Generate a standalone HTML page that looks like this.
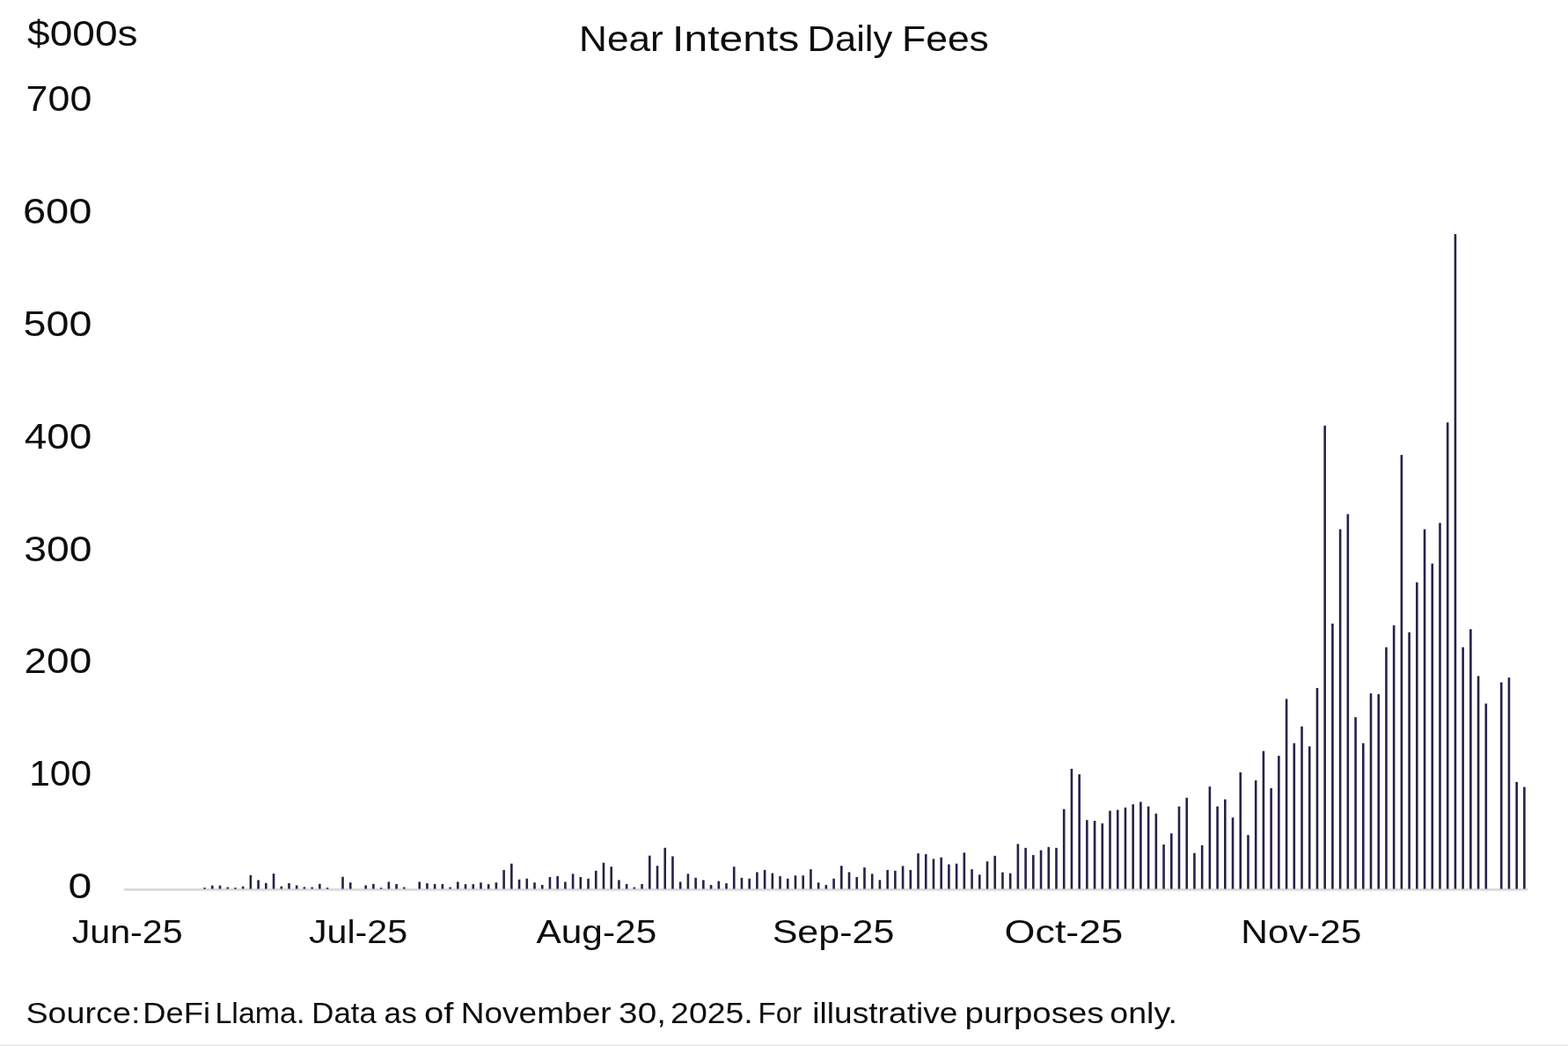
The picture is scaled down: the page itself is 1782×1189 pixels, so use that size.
<!DOCTYPE html>
<html lang="en"><head><meta charset="utf-8"><title>Near Intents Daily Fees</title>
<style>
html,body{margin:0;padding:0;background:#fff;}
body{width:1782px;height:1189px;overflow:hidden;}
svg{display:block;}
text{font-family:"Liberation Sans",sans-serif;fill:#0d0d0d;}
</style></head><body>
<svg width="1782" height="1189" viewBox="0 0 1782 1189">
<rect width="1782" height="1189" fill="#fff"/>
<g>
<text x="31.13" y="52.1" font-size="40" textLength="125.35" lengthAdjust="spacingAndGlyphs">$000s</text>
</g>
<g>
<text y="58.2" font-size="41"><tspan x="658.06" textLength="95.77" lengthAdjust="spacingAndGlyphs">Near</tspan> <tspan x="764.08" textLength="144.31" lengthAdjust="spacingAndGlyphs">Intents</tspan> <tspan x="917.62" textLength="96.69" lengthAdjust="spacingAndGlyphs">Daily</tspan> <tspan x="1025.07" textLength="98.77" lengthAdjust="spacingAndGlyphs">Fees</tspan></text>
</g>
<g>
<text x="29.60" y="125.9" font-size="40" textLength="74.72" lengthAdjust="spacingAndGlyphs">700</text>
<text x="25.93" y="253.8" font-size="40" textLength="78.49" lengthAdjust="spacingAndGlyphs">600</text>
<text x="26.57" y="381.7" font-size="40" textLength="77.80" lengthAdjust="spacingAndGlyphs">500</text>
<text x="27.71" y="509.6" font-size="40" textLength="76.63" lengthAdjust="spacingAndGlyphs">400</text>
<text x="27.27" y="637.5" font-size="40" textLength="77.19" lengthAdjust="spacingAndGlyphs">300</text>
<text x="27.55" y="765.4" font-size="40" textLength="76.69" lengthAdjust="spacingAndGlyphs">200</text>
<text x="33.22" y="893.3" font-size="40" textLength="70.87" lengthAdjust="spacingAndGlyphs">100</text>
<text x="77.62" y="1021.2" font-size="40" textLength="26.75" lengthAdjust="spacingAndGlyphs">0</text>
</g>
<rect x="141" y="1009.8" width="1595.6" height="2.8" fill="#d9d9d9"/>
<g fill="#2a2049">
<rect x="231.26" y="1009.0" width="2.6" height="1.4"/>
<rect x="239.98" y="1006.6" width="2.6" height="3.8"/>
<rect x="248.70" y="1006.6" width="2.6" height="3.8"/>
<rect x="257.42" y="1008.5" width="2.6" height="1.9"/>
<rect x="266.14" y="1009.0" width="2.6" height="1.4"/>
<rect x="274.86" y="1007.6" width="2.6" height="2.8"/>
<rect x="283.58" y="994.8" width="2.6" height="15.6"/>
<rect x="292.30" y="1000.4" width="2.6" height="10.0"/>
<rect x="301.02" y="1003.7" width="2.6" height="6.7"/>
<rect x="309.74" y="993.1" width="2.6" height="17.3"/>
<rect x="318.46" y="1007.6" width="2.6" height="2.8"/>
<rect x="327.18" y="1003.9" width="2.6" height="6.5"/>
<rect x="335.90" y="1006.4" width="2.6" height="4.0"/>
<rect x="344.62" y="1008.3" width="2.6" height="2.1"/>
<rect x="353.34" y="1008.5" width="2.6" height="1.9"/>
<rect x="362.06" y="1004.7" width="2.6" height="5.7"/>
<rect x="370.78" y="1009.0" width="2.6" height="1.4"/>
<rect x="388.22" y="996.7" width="2.6" height="13.7"/>
<rect x="396.94" y="1003.1" width="2.6" height="7.3"/>
<rect x="414.38" y="1006.4" width="2.6" height="4.0"/>
<rect x="423.10" y="1004.8" width="2.6" height="5.6"/>
<rect x="431.82" y="1009.1" width="2.6" height="1.3"/>
<rect x="440.54" y="1002.4" width="2.6" height="8.0"/>
<rect x="449.26" y="1004.9" width="2.6" height="5.5"/>
<rect x="457.98" y="1008.5" width="2.6" height="1.9"/>
<rect x="475.42" y="1002.4" width="2.6" height="8.0"/>
<rect x="484.14" y="1004.1" width="2.6" height="6.3"/>
<rect x="492.86" y="1004.9" width="2.6" height="5.5"/>
<rect x="501.58" y="1004.9" width="2.6" height="5.5"/>
<rect x="510.30" y="1008.5" width="2.6" height="1.9"/>
<rect x="519.02" y="1002.4" width="2.6" height="8.0"/>
<rect x="527.74" y="1005.1" width="2.6" height="5.3"/>
<rect x="536.46" y="1005.1" width="2.6" height="5.3"/>
<rect x="545.18" y="1003.2" width="2.6" height="7.2"/>
<rect x="553.90" y="1005.1" width="2.6" height="5.3"/>
<rect x="562.62" y="1003.2" width="2.6" height="7.2"/>
<rect x="571.34" y="988.9" width="2.6" height="21.5"/>
<rect x="580.06" y="981.7" width="2.6" height="28.7"/>
<rect x="588.78" y="999.7" width="2.6" height="10.7"/>
<rect x="597.50" y="998.7" width="2.6" height="11.7"/>
<rect x="606.22" y="1003.2" width="2.6" height="7.2"/>
<rect x="614.94" y="1005.9" width="2.6" height="4.5"/>
<rect x="623.66" y="997.0" width="2.6" height="13.4"/>
<rect x="632.38" y="996.0" width="2.6" height="14.4"/>
<rect x="641.10" y="1002.4" width="2.6" height="8.0"/>
<rect x="649.82" y="993.3" width="2.6" height="17.1"/>
<rect x="658.54" y="997.0" width="2.6" height="13.4"/>
<rect x="667.26" y="998.7" width="2.6" height="11.7"/>
<rect x="675.98" y="989.8" width="2.6" height="20.6"/>
<rect x="684.70" y="980.7" width="2.6" height="29.7"/>
<rect x="693.42" y="985.2" width="2.6" height="25.2"/>
<rect x="702.14" y="1000.4" width="2.6" height="10.0"/>
<rect x="710.86" y="1004.9" width="2.6" height="5.5"/>
<rect x="719.58" y="1008.5" width="2.6" height="1.9"/>
<rect x="728.30" y="1004.9" width="2.6" height="5.5"/>
<rect x="737.02" y="972.6" width="2.6" height="37.8"/>
<rect x="745.74" y="984.2" width="2.6" height="26.2"/>
<rect x="754.46" y="963.7" width="2.6" height="46.7"/>
<rect x="763.18" y="973.4" width="2.6" height="37.0"/>
<rect x="771.90" y="1002.4" width="2.6" height="8.0"/>
<rect x="780.62" y="993.3" width="2.6" height="17.1"/>
<rect x="789.34" y="997.8" width="2.6" height="12.6"/>
<rect x="798.06" y="1000.4" width="2.6" height="10.0"/>
<rect x="806.78" y="1005.9" width="2.6" height="4.5"/>
<rect x="815.50" y="1001.6" width="2.6" height="8.8"/>
<rect x="824.22" y="1004.1" width="2.6" height="6.3"/>
<rect x="832.94" y="985.2" width="2.6" height="25.2"/>
<rect x="841.66" y="997.8" width="2.6" height="12.6"/>
<rect x="850.38" y="998.7" width="2.6" height="11.7"/>
<rect x="859.10" y="991.4" width="2.6" height="19.0"/>
<rect x="867.82" y="988.9" width="2.6" height="21.5"/>
<rect x="876.54" y="992.5" width="2.6" height="17.9"/>
<rect x="885.26" y="996.0" width="2.6" height="14.4"/>
<rect x="893.98" y="998.7" width="2.6" height="11.7"/>
<rect x="902.70" y="995.2" width="2.6" height="15.2"/>
<rect x="911.42" y="995.2" width="2.6" height="15.2"/>
<rect x="920.14" y="988.1" width="2.6" height="22.3"/>
<rect x="928.86" y="1003.2" width="2.6" height="7.2"/>
<rect x="937.58" y="1005.9" width="2.6" height="4.5"/>
<rect x="946.30" y="998.7" width="2.6" height="11.7"/>
<rect x="955.02" y="984.2" width="2.6" height="26.2"/>
<rect x="963.74" y="991.4" width="2.6" height="19.0"/>
<rect x="972.46" y="997.0" width="2.6" height="13.4"/>
<rect x="981.18" y="986.1" width="2.6" height="24.3"/>
<rect x="989.90" y="993.3" width="2.6" height="17.1"/>
<rect x="998.62" y="1000.3" width="2.6" height="10.1"/>
<rect x="1007.34" y="988.9" width="2.6" height="21.5"/>
<rect x="1016.06" y="989.8" width="2.6" height="20.6"/>
<rect x="1024.78" y="984.4" width="2.6" height="26.0"/>
<rect x="1033.50" y="988.9" width="2.6" height="21.5"/>
<rect x="1042.22" y="970.1" width="2.6" height="40.3"/>
<rect x="1050.94" y="970.9" width="2.6" height="39.5"/>
<rect x="1059.66" y="976.3" width="2.6" height="34.1"/>
<rect x="1068.38" y="974.6" width="2.6" height="35.8"/>
<rect x="1077.10" y="982.5" width="2.6" height="27.9"/>
<rect x="1085.82" y="981.7" width="2.6" height="28.7"/>
<rect x="1094.54" y="969.2" width="2.6" height="41.2"/>
<rect x="1103.26" y="988.1" width="2.6" height="22.3"/>
<rect x="1111.98" y="994.3" width="2.6" height="16.1"/>
<rect x="1120.70" y="979.2" width="2.6" height="31.2"/>
<rect x="1129.42" y="972.8" width="2.6" height="37.6"/>
<rect x="1138.14" y="991.6" width="2.6" height="18.8"/>
<rect x="1146.86" y="992.6" width="2.6" height="17.8"/>
<rect x="1155.58" y="959.3" width="2.6" height="51.1"/>
<rect x="1164.30" y="963.8" width="2.6" height="46.6"/>
<rect x="1173.02" y="971.9" width="2.6" height="38.5"/>
<rect x="1181.74" y="966.5" width="2.6" height="43.9"/>
<rect x="1190.46" y="962.8" width="2.6" height="47.6"/>
<rect x="1199.18" y="963.8" width="2.6" height="46.6"/>
<rect x="1207.90" y="919.7" width="2.6" height="90.7"/>
<rect x="1216.62" y="873.9" width="2.6" height="136.5"/>
<rect x="1225.34" y="880.2" width="2.6" height="130.2"/>
<rect x="1234.06" y="932.2" width="2.6" height="78.2"/>
<rect x="1242.78" y="933.0" width="2.6" height="77.4"/>
<rect x="1251.50" y="935.9" width="2.6" height="74.5"/>
<rect x="1260.22" y="921.6" width="2.6" height="88.8"/>
<rect x="1268.94" y="920.6" width="2.6" height="89.8"/>
<rect x="1277.66" y="917.9" width="2.6" height="92.5"/>
<rect x="1286.38" y="914.3" width="2.6" height="96.1"/>
<rect x="1295.10" y="911.5" width="2.6" height="98.9"/>
<rect x="1303.82" y="916.7" width="2.6" height="93.7"/>
<rect x="1312.54" y="924.8" width="2.6" height="85.6"/>
<rect x="1321.26" y="960.0" width="2.6" height="50.4"/>
<rect x="1329.98" y="947.3" width="2.6" height="63.1"/>
<rect x="1338.70" y="916.7" width="2.6" height="93.7"/>
<rect x="1347.42" y="906.8" width="2.6" height="103.6"/>
<rect x="1356.14" y="969.7" width="2.6" height="40.7"/>
<rect x="1364.86" y="960.8" width="2.6" height="49.6"/>
<rect x="1373.58" y="894.1" width="2.6" height="116.3"/>
<rect x="1382.30" y="916.7" width="2.6" height="93.7"/>
<rect x="1391.02" y="908.6" width="2.6" height="101.8"/>
<rect x="1399.74" y="929.3" width="2.6" height="81.1"/>
<rect x="1408.46" y="878.0" width="2.6" height="132.4"/>
<rect x="1417.18" y="949.2" width="2.6" height="61.2"/>
<rect x="1425.90" y="887.1" width="2.6" height="123.3"/>
<rect x="1434.62" y="853.7" width="2.6" height="156.7"/>
<rect x="1443.34" y="896.0" width="2.6" height="114.4"/>
<rect x="1452.06" y="859.1" width="2.6" height="151.3"/>
<rect x="1460.78" y="794.5" width="2.6" height="215.9"/>
<rect x="1469.50" y="844.8" width="2.6" height="165.6"/>
<rect x="1478.22" y="825.8" width="2.6" height="184.6"/>
<rect x="1486.94" y="848.4" width="2.6" height="162.0"/>
<rect x="1495.66" y="782.0" width="2.6" height="228.4"/>
<rect x="1504.38" y="483.8" width="2.6" height="526.6"/>
<rect x="1513.10" y="708.8" width="2.6" height="301.6"/>
<rect x="1521.82" y="601.6" width="2.6" height="408.8"/>
<rect x="1530.54" y="584.4" width="2.6" height="426.0"/>
<rect x="1539.26" y="815.2" width="2.6" height="195.2"/>
<rect x="1547.98" y="844.8" width="2.6" height="165.6"/>
<rect x="1556.70" y="788.2" width="2.6" height="222.2"/>
<rect x="1565.42" y="789.1" width="2.6" height="221.3"/>
<rect x="1574.14" y="735.7" width="2.6" height="274.7"/>
<rect x="1582.86" y="710.8" width="2.6" height="299.6"/>
<rect x="1591.58" y="517.1" width="2.6" height="493.3"/>
<rect x="1600.30" y="718.7" width="2.6" height="291.7"/>
<rect x="1609.02" y="662.0" width="2.6" height="348.4"/>
<rect x="1617.74" y="601.6" width="2.6" height="408.8"/>
<rect x="1626.46" y="640.6" width="2.6" height="369.8"/>
<rect x="1635.18" y="594.4" width="2.6" height="416.0"/>
<rect x="1643.90" y="480.2" width="2.6" height="530.2"/>
<rect x="1652.62" y="266.1" width="2.6" height="744.3"/>
<rect x="1661.34" y="735.7" width="2.6" height="274.7"/>
<rect x="1670.06" y="715.2" width="2.6" height="295.2"/>
<rect x="1678.78" y="768.4" width="2.6" height="242.0"/>
<rect x="1687.50" y="799.7" width="2.6" height="210.7"/>
<rect x="1704.94" y="775.6" width="2.6" height="234.8"/>
<rect x="1713.66" y="770.2" width="2.6" height="240.2"/>
<rect x="1722.38" y="888.9" width="2.6" height="121.5"/>
<rect x="1731.10" y="894.6" width="2.6" height="115.8"/>
</g>
<g>
<text x="81.68" y="1071.5" font-size="37" textLength="126.02" lengthAdjust="spacingAndGlyphs">Jun-25</text>
<text x="350.91" y="1071.5" font-size="37" textLength="112.17" lengthAdjust="spacingAndGlyphs">Jul-25</text>
<text x="609.43" y="1071.5" font-size="37" textLength="136.91" lengthAdjust="spacingAndGlyphs">Aug-25</text>
<text x="877.65" y="1071.5" font-size="37" textLength="138.80" lengthAdjust="spacingAndGlyphs">Sep-25</text>
<text x="1141.55" y="1071.5" font-size="37" textLength="134.68" lengthAdjust="spacingAndGlyphs">Oct-25</text>
<text x="1410.38" y="1071.5" font-size="37" textLength="136.99" lengthAdjust="spacingAndGlyphs">Nov-25</text>
</g>
<g>
<text y="1163.0" font-size="33.5"><tspan x="29.48" textLength="129.92" lengthAdjust="spacingAndGlyphs">Source:</tspan> <tspan x="162.32" textLength="76.64" lengthAdjust="spacingAndGlyphs">DeFi</tspan> <tspan x="244.45" textLength="102.03" lengthAdjust="spacingAndGlyphs">Llama.</tspan> <tspan x="354.35" textLength="73.35" lengthAdjust="spacingAndGlyphs">Data</tspan> <tspan x="436.61" textLength="37.12" lengthAdjust="spacingAndGlyphs">as</tspan> <tspan x="481.90" textLength="33.50" lengthAdjust="spacingAndGlyphs">of</tspan> <tspan x="523.65" textLength="170.99" lengthAdjust="spacingAndGlyphs">November</tspan> <tspan x="703.13" textLength="53.77" lengthAdjust="spacingAndGlyphs">30,</tspan> <tspan x="762.13" textLength="93.58" lengthAdjust="spacingAndGlyphs">2025.</tspan> <tspan x="861.59" textLength="49.70" lengthAdjust="spacingAndGlyphs">For</tspan> <tspan x="923.34" textLength="165.12" lengthAdjust="spacingAndGlyphs">illustrative</tspan> <tspan x="1096.54" textLength="157.94" lengthAdjust="spacingAndGlyphs">purposes</tspan> <tspan x="1261.31" textLength="76.63" lengthAdjust="spacingAndGlyphs">only.</tspan></text>
</g>
<rect x="0" y="1187.5" width="1782" height="1.5" fill="#e3e3e3"/>
</svg>
</body></html>
